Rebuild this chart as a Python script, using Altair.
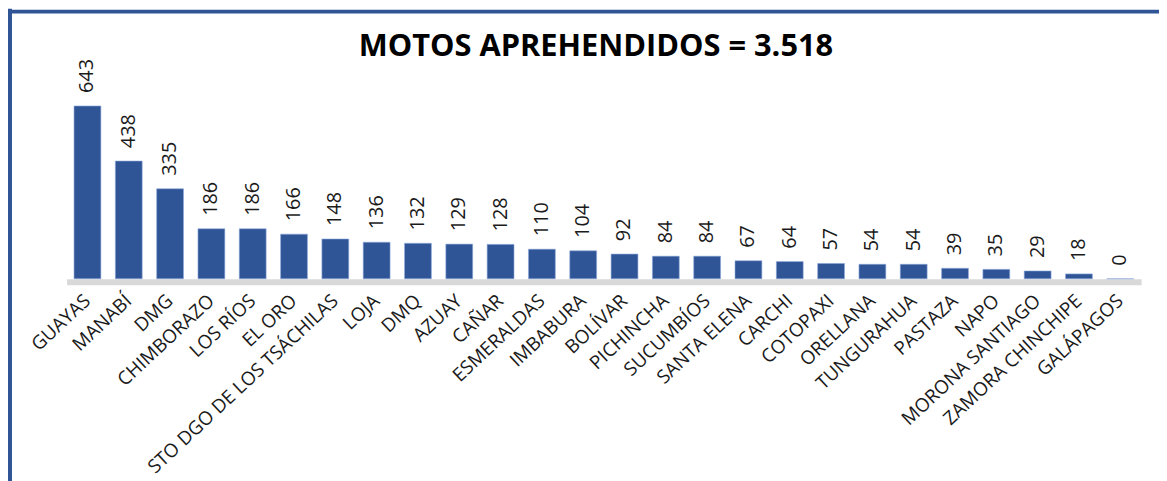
import altair as alt
import pandas as pd

provincias = ["GUAYAS", "MANABÍ", "DMG", "CHIMBORAZO", "LOS RÍOS", "EL ORO",
              "STO DGO DE LOS TSÁCHILAS", "LOJA", "DMQ", "AZUAY", "CAÑAR",
              "ESMERALDAS", "IMBABURA", "BOLÍVAR", "PICHINCHA", "SUCUMBÍOS",
              "SANTA ELENA", "CARCHI", "COTOPAXI", "ORELLANA", "TUNGURAHUA",
              "PASTAZA", "NAPO", "MORONA SANTIAGO", "ZAMORA CHINCHIPE", "GALÁPAGOS"]
motos = [643, 438, 335, 186, 186, 166, 148, 136, 132, 129, 128, 110, 104, 92,
         84, 84, 67, 64, 57, 54, 54, 39, 35, 29, 18, 0]
titulo = ["MOTOS APREHENDIDOS = 3.518"]

df = pd.DataFrame({"provincia": provincias, "motos": motos})
df_title = pd.DataFrame({"t": titulo})

FONT = "Open Sans"
BLUE = "#2F5597"

x = alt.X("provincia:N", sort=None,
          scale=alt.Scale(paddingInner=0.35, paddingOuter=0.18),
          axis=alt.Axis(title=None, labelAngle=-43, labelAlign="right",
                        labelBaseline="middle", labelFont=FONT, labelFontSize=19,
                        labelColor="#1a1a1a", labelPadding=16, ticks=False,
                        domainColor="#d9d9d9", domainWidth=6, offset=3,
                        labelOverlap=False, labelLimit=0))
y = alt.Y("motos:Q", scale=alt.Scale(domain=[0, 661.5], nice=False),
          axis=None)

base = alt.Chart(df).encode(x=x, y=y)

bars = base.mark_bar(color=BLUE, stroke="#8EA9DB", strokeWidth=0.6)
labels = base.mark_text(angle=270, align="left", baseline="middle", dx=13,
                        font=FONT, fontSize=20, color="#1a1a1a").encode(
    text=alt.Text("motos:Q"))

title_mark = alt.Chart(df_title).mark_text(
    font=FONT, fontSize=31, fontWeight="bold", color="#000000",
    align="center", baseline="alphabetic").encode(
    text="t:N", x=alt.value(533), y=alt.value(-45))

frame_left = alt.Chart(df_title).mark_rule(color=BLUE, strokeWidth=4).encode(
    x=alt.value(-57), y=alt.value(-93), y2=alt.value(400))
frame_top = alt.Chart(df_title).mark_rule(color=BLUE, strokeWidth=4).encode(
    x=alt.value(-59), x2=alt.value(1120), y=alt.value(-90))

chart = alt.layer(frame_left, frame_top, bars, labels, title_mark).properties(
    width=1082, height=179,
    autosize=alt.AutoSizeParams(type="none"),
    padding={"left": 59, "top": 92, "right": 18, "bottom": 202},
).configure(background="#ffffff").configure_view(strokeWidth=0, stroke="transparent")

chart.save("out.html", embed_options={"renderer": "svg", "actions": False})
